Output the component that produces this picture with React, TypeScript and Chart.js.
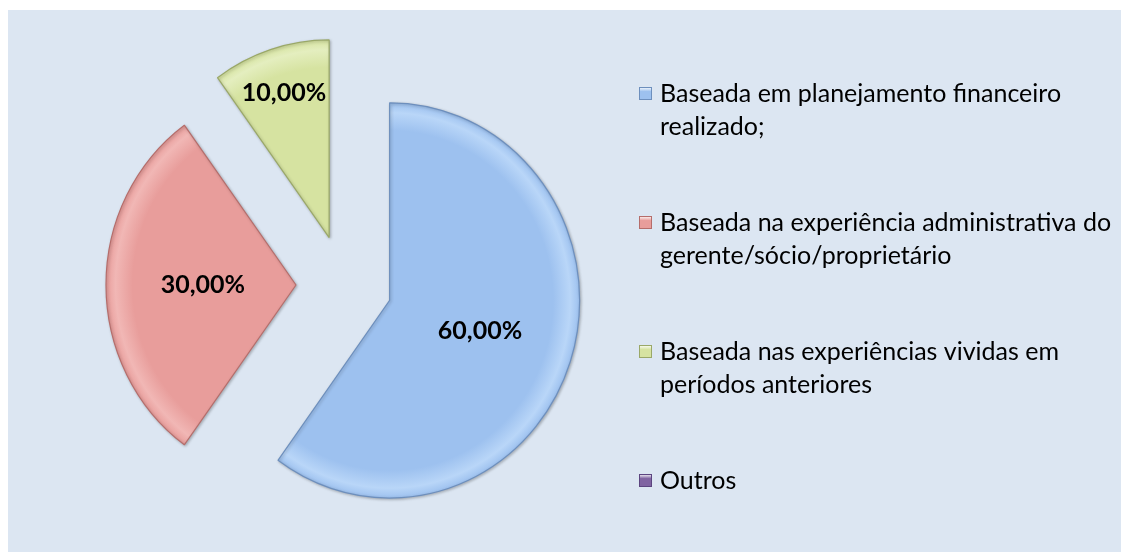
import React, { useEffect, useRef } from "react";
import { Chart, registerables } from "chart.js";

Chart.register(...registerables);

const categories: string[][] = [
  ["Baseada em planejamento financeiro", "realizado;"],
  ["Baseada na experiência administrativa do", "gerente/sócio/proprietário"],
  ["Baseada nas experiências vividas em", "períodos anteriores"],
  ["Outros"],
];
const values: number[] = [60, 30, 10, 0];
const fillColors: string[] = ["#9dc1ef", "#e89d9b", "#d6e3a1", "#8064a2"];
const rimColors: string[] = ["#b9d6f8", "#f1b7b5", "#e4eebf", "#9c85bb"];
const edgeColors: string[] = ["#6d8fbd", "#b56d6b", "#9aa868", "#5c4580"];

const EXPLODE = 48;
const SCALE_Y = 1.04;
const RADIUS = 190;
const LABEL_FRAC = [0.5, 0.49, 0.77, 0.5];

const fmt = (v: number) => v.toFixed(2).replace(".", ",") + "%";

const piePlugin = {
  id: "explodedPie",
  beforeDatasetsDraw(chart: any) {
    const ctx = chart.ctx;
    const meta = chart.getDatasetMeta(0);
    meta.data.forEach((arc: any) => {
      const p = arc.getProps(["startAngle", "endAngle", "x", "y"], true);
      if (p.endAngle - p.startAngle <= 0) return;
      const mid = (p.startAngle + p.endAngle) / 2;
      ctx.save();
      ctx.translate(p.x, p.y);
      ctx.scale(1, SCALE_Y);
      ctx.translate(Math.cos(mid) * EXPLODE, Math.sin(mid) * EXPLODE);
      ctx.translate(-p.x, -p.y);
      ctx.shadowColor = "rgba(0,0,0,0.25)";
      ctx.shadowBlur = 3;
      ctx.shadowOffsetX = 1;
      ctx.shadowOffsetY = 1;
      arc.draw(ctx);
      ctx.restore();
    });
    return false;
  },
  afterDraw(chart: any) {
    const ctx = chart.ctx;
    const meta = chart.getDatasetMeta(0);
    const ds = chart.data.datasets[0];
    const data = ds.data as number[];

    // value labels
    ctx.save();
    ctx.font = "bold 25px Lato";
    ctx.fillStyle = "#000";
    ctx.textAlign = "center";
    ctx.textBaseline = "middle";
    meta.data.forEach((arc: any, i: number) => {
      const p = arc.getProps(["startAngle", "endAngle", "x", "y", "outerRadius"], true);
      if (p.endAngle - p.startAngle <= 0) return;
      const mid = (p.startAngle + p.endAngle) / 2;
      const d = EXPLODE + LABEL_FRAC[i] * p.outerRadius;
      const x = p.x + Math.cos(mid) * d;
      const y = p.y + Math.sin(mid) * d * SCALE_Y;
      ctx.fillText(fmt(data[i]), x, y);
    });
    ctx.restore();

    // legend
    const labels = chart.data.labels as string[][];
    ctx.save();
    ctx.font = "25px Lato";
    ctx.textAlign = "left";
    ctx.textBaseline = "alphabetic";
    const markerX = 631;
    const textX = 652;
    const firstBase = 92;
    const rowGap = 129;
    const lineGap = 33;
    labels.forEach((lines, i) => {
      const base = firstBase + i * rowGap;
      const top = base - 15;
      const g = ctx.createLinearGradient(markerX, top, markerX, top + 13);
      g.addColorStop(0, "#ffffff");
      g.addColorStop(0.35, fillColors[i]);
      g.addColorStop(1, fillColors[i]);
      ctx.fillStyle = g;
      ctx.fillRect(markerX, top, 13, 13);
      ctx.strokeStyle = edgeColors[i];
      ctx.lineWidth = 1;
      ctx.strokeRect(markerX + 0.5, top + 0.5, 12, 12);
      ctx.fillStyle = "#000";
      lines.forEach((t, j) => ctx.fillText(t, textX, base + j * lineGap));
    });
    ctx.restore();
  },
};

export default function App() {
  const ref = useRef<HTMLCanvasElement | null>(null);
  useEffect(() => {
    if (!ref.current) return;
    const chart = new Chart(ref.current, {
      type: "pie",
      data: {
        labels: categories,
        datasets: [
          {
            data: values,
            backgroundColor: (c: any) => {
              const base = fillColors[c.dataIndex];
              const area = c.chart.chartArea;
              if (!area) return base;
              const cx = (area.left + area.right) / 2;
              const cy = (area.top + area.bottom) / 2;
              const g = c.chart.ctx.createRadialGradient(cx, cy, 0, cx, cy, RADIUS);
              g.addColorStop(0, base);
              g.addColorStop(0.86, base);
              g.addColorStop(0.95, rimColors[c.dataIndex]);
              g.addColorStop(1, base);
              return g;
            },
            borderColor: edgeColors,
            borderWidth: 1.2,
            radius: RADIUS,
          },
        ],
      },
      options: {
        animation: false,
        responsive: true,
        maintainAspectRatio: false,
        layout: { padding: { left: 0, right: 441, top: 8, bottom: 0 } },
        plugins: {
          legend: { display: false },
          tooltip: { enabled: false },
        },
      },
      plugins: [piePlugin],
    });
    return () => chart.destroy();
  }, []);
  return (
    <div
      style={{
        position: "fixed",
        left: 8,
        top: 10,
        width: 1300,
        height: 700,
        background: "#dce6f2",
      }}
    >
      <div style={{ position: "relative", width: 1113, height: 542 }}>
        <canvas ref={ref} />
      </div>
    </div>
  );
}
